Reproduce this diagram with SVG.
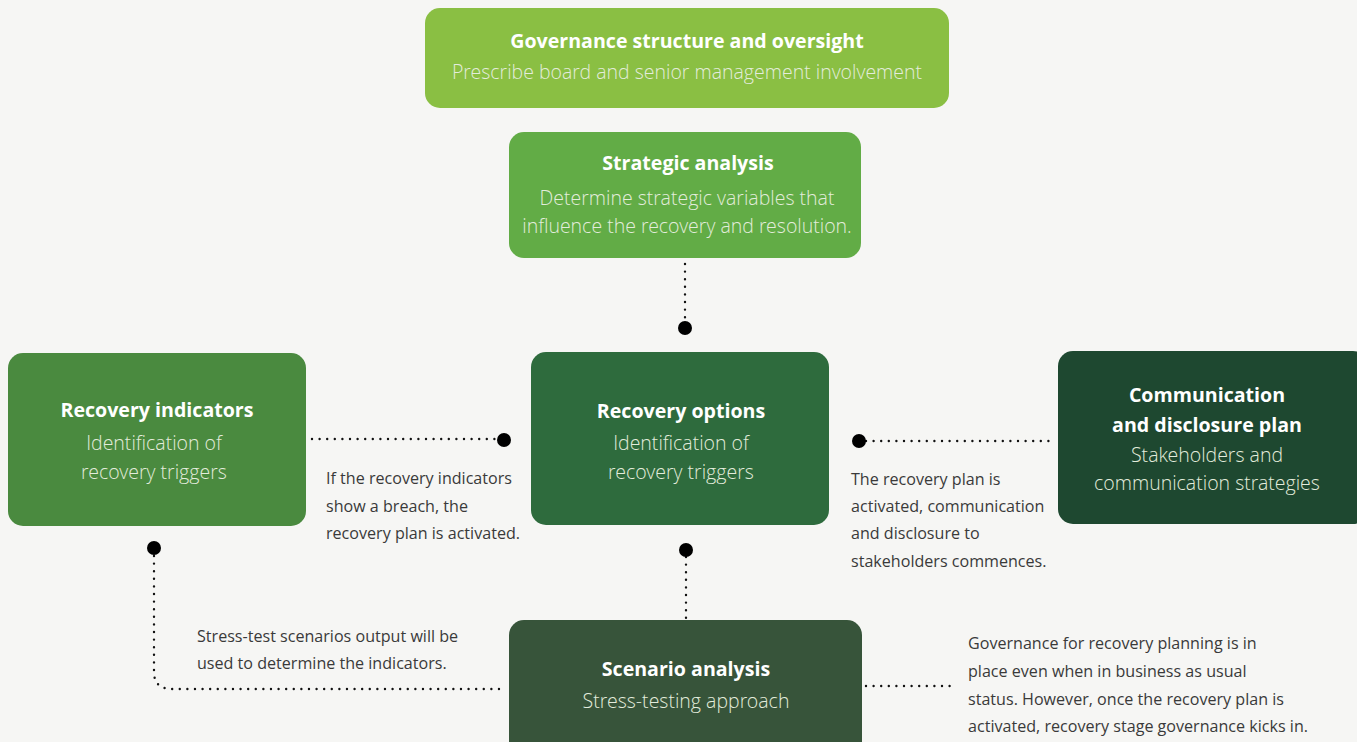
<svg xmlns="http://www.w3.org/2000/svg" width="1357" height="742" viewBox="0 0 1357 742">
<style>
.t{font-family:"Open Sans","Noto Sans","Liberation Sans",sans-serif;font-weight:700;font-size:19.6px;fill:#fff;text-anchor:middle}
.s{font-family:"Open Sans Light","Open Sans","Noto Sans","Liberation Sans",sans-serif;font-weight:300;font-size:19.5px;fill:#e3ecdc;text-anchor:middle}
.l{font-family:"Open Sans","Noto Sans","Liberation Sans",sans-serif;font-weight:400;font-size:16.1px;fill:#3a3a3a}
.d{fill:none;stroke:#111;stroke-width:2.4;stroke-linecap:round;stroke-dasharray:0 7.6}
</style>
<rect width="1357" height="742" fill="#f6f6f4"/>
<g id="connectors">
<path class="d" d="M685 264 V322"/>
<circle cx="685" cy="328" r="7" fill="#000"/>
<path class="d" d="M312 439 H498"/>
<circle cx="504" cy="440" r="7" fill="#000"/>
<path class="d" d="M866 441 H1054"/>
<circle cx="859" cy="441" r="7" fill="#000"/>
<path class="d" d="M154 556 V672 Q154 689 172 689 H506"/>
<circle cx="154" cy="548" r="7" fill="#000"/>
<path class="d" d="M686 557 V618"/>
<circle cx="686" cy="550" r="7" fill="#000"/>
<path class="d" d="M866 686 H952"/>
</g>
<g id="governance">
<rect x="425" y="8" width="524" height="100" rx="15" fill="#8abf43"/>
<text class="t" x="687" y="48">Governance structure and oversight</text>
<text class="s" x="687" y="79">Prescribe board and senior management involvement</text>
</g>
<g id="strategic">
<rect x="509" y="132" width="352" height="126" rx="15" fill="#62ac46"/>
<text class="t" x="688" y="170">Strategic analysis</text>
<text class="s" x="687" y="205">Determine strategic variables that</text>
<text class="s" x="687" y="233">influence the recovery and resolution.</text>
</g>
<g id="indicators">
<rect x="8" y="353" width="298" height="173" rx="15" fill="#4a8a3f"/>
<text class="t" x="157" y="417">Recovery indicators</text>
<text class="s" x="154" y="450">Identification of</text>
<text class="s" x="154" y="479">recovery triggers</text>
</g>
<g id="options">
<rect x="531" y="352" width="298" height="173" rx="15" fill="#2e6b3d"/>
<text class="t" x="681" y="418">Recovery options</text>
<text class="s" x="681" y="450">Identification of</text>
<text class="s" x="681" y="479">recovery triggers</text>
</g>
<g id="communication">
<rect x="1058" y="351" width="310" height="173" rx="15" fill="#1e4830"/>
<text class="t" x="1207" y="402">Communication</text>
<text class="t" x="1207" y="432">and disclosure plan</text>
<text class="s" x="1207" y="462">Stakeholders and</text>
<text class="s" x="1207" y="490">communication strategies</text>
</g>
<g id="scenario">
<rect x="509" y="620" width="353" height="140" rx="15" fill="#37543a"/>
<text class="t" x="686" y="676">Scenario analysis</text>
<text class="s" x="686" y="708">Stress-testing approach</text>
</g>
<g id="labels">
<text class="l" x="326" y="484">If the recovery indicators</text>
<text class="l" x="326" y="512">show a breach, the</text>
<text class="l" x="326" y="539">recovery plan is activated.</text>
<text class="l" x="851" y="485">The recovery plan is</text>
<text class="l" x="851" y="512">activated, communication</text>
<text class="l" x="851" y="539">and disclosure to</text>
<text class="l" x="851" y="567">stakeholders commences.</text>
<text class="l" x="197" y="642">Stress-test scenarios output will be</text>
<text class="l" x="197" y="669">used to determine the indicators.</text>
<text class="l" x="968" y="649">Governance for recovery planning is in</text>
<text class="l" x="968" y="677">place even when in business as usual</text>
<text class="l" x="968" y="705">status. However, once the recovery plan is</text>
<text class="l" x="968" y="732">activated, recovery stage governance kicks in.</text>
</g>
</svg>
